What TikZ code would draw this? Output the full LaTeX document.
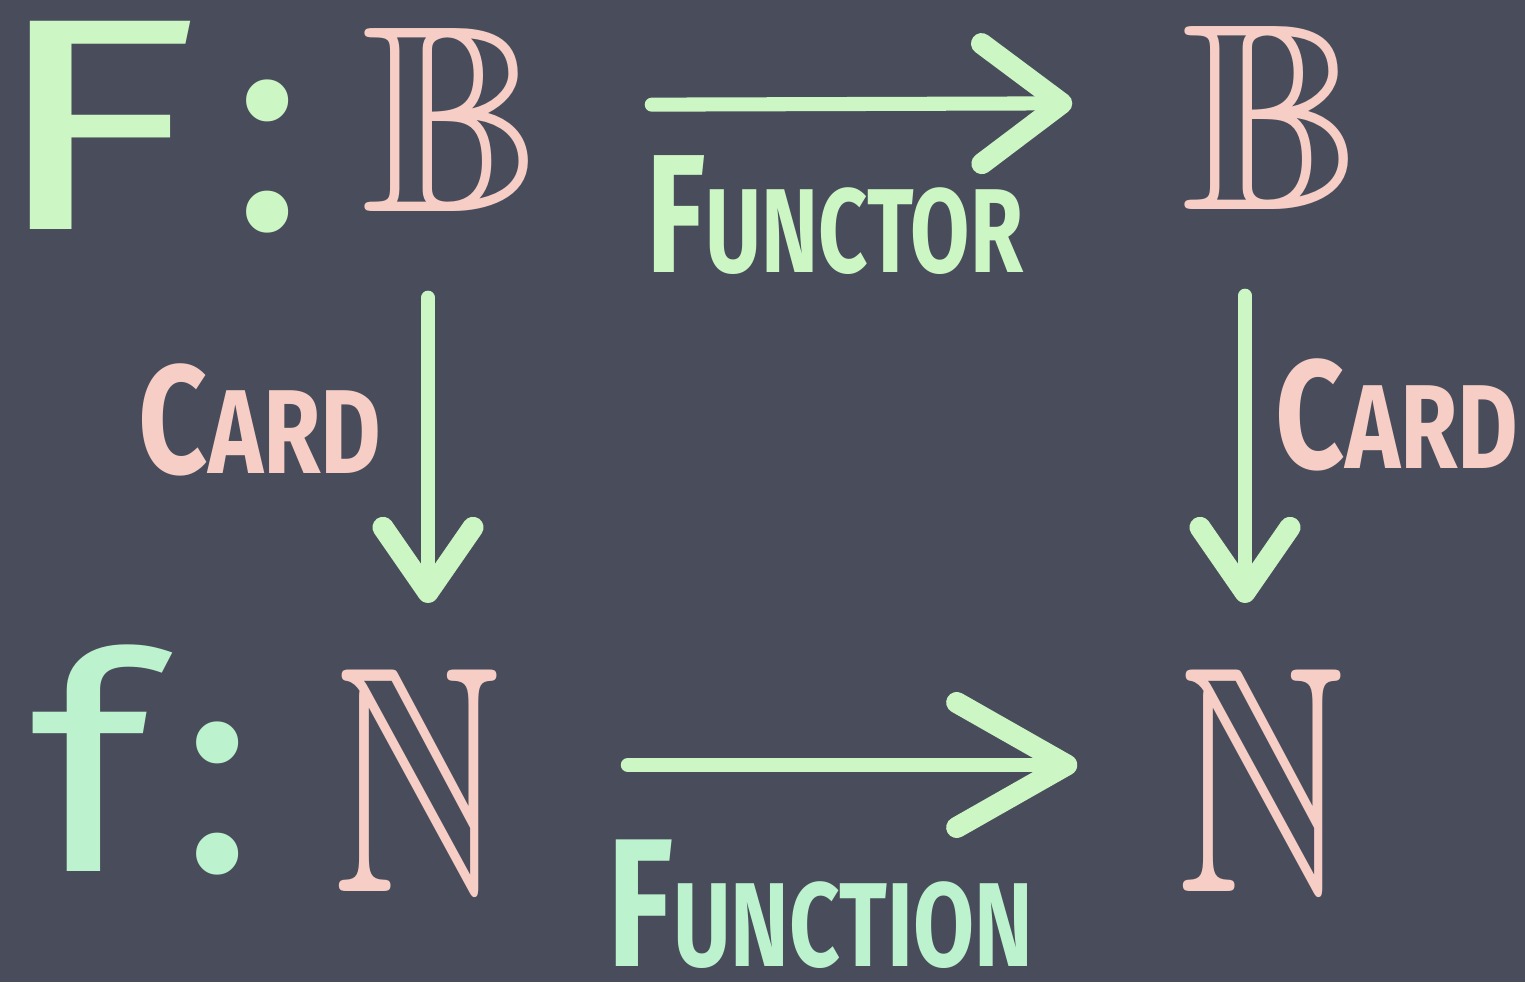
\documentclass[tikz,border=0pt]{standalone}
\usepackage{amsmath,amssymb}
\usepackage{graphicx}
\usepackage{fontspec}
\setmainfont{Fira Sans}
\usepackage{tikz}
\usetikzlibrary{positioning,arrows.meta}
\definecolor{cboard}{RGB}{73,77,91}
\definecolor{cchalk}{RGB}{204,246,196}
\definecolor{cmint}{RGB}{188,242,206}
\definecolor{cpink}{RGB}{246,206,198}

\begin{document}
\begin{tikzpicture}[
  inner sep=0pt,
  % big letters on the board
  fun/.style={color=cchalk,font=\fontsize{86}{90}\selectfont},
  set/.style={color=cpink,font=\fontsize{76}{80}\selectfont},
  nat/.style={color=cpink,font=\fontsize{92}{96}\selectfont},
  % hand-lettered captions: first capital bigger, rest narrow
  lettering/.style={font=\fontsize{34}{36}\selectfont\bfseries},
  arr/.style={color=cchalk,line width=4pt,line cap=round},
]
\useasboundingbox (0,0) rectangle (15.25,9.82);
\fill[cboard] (0,0) rectangle (15.25,9.82);

% =========== top row: the functor on sets ==================================
\node[fun] (lF) at (1.45,8.55) {\scalebox{1.45}[1]{F}\hspace{0.1em}:};
\node[set] (bL) at (4.52,8.62) {$\mathbb{B}$};
\node[set] (bR) at (12.72,8.64) {$\mathbb{B}$};
\draw[arr,-{Straight Barb[length=8mm,width=12mm,line width=2pt 1,round]},
      shorten <=11mm,shorten >=11mm]
  ([yshift=1.5mm]bL.east) -- ([yshift=1.5mm]bR.west);
\node[lettering,color=cchalk] (functor) at (8.35,7.67)
  {\scalebox{0.72}[1]{{\fontsize{48}{50}\selectfont F}UNCTOR}};

% =========== bottom row: the function on numbers ===========================
\node[fun,color=cmint] (lf) at (1.42,2.22) {\scalebox{1.2}[1]{f}\hspace{0.1em}:};
\node[nat] (nL) at (4.18,2.02) {\scalebox{0.72}[1]{$\mathbb{N}$}};
\node[nat] (nR) at (12.62,2.02) {\scalebox{0.72}[1]{$\mathbb{N}$}};
\draw[arr,-{Straight Barb[length=11mm,width=12.5mm,line width=2pt 1,round]},
      shorten <=12.5mm,shorten >=10mm]
  ([yshift=1.5mm]nL.east) -- ([yshift=1.5mm]nR.west);
\node[lettering,color=cmint] (function) at (8.2,0.78)
  {\scalebox{0.74}[1]{{\fontsize{52}{54}\selectfont F}UNCTION}};

% =========== the two cardinality maps ======================================
\draw[arr,-{Straight Barb[length=6.5mm,width=9mm,line width=2pt 1,round]},
      shorten <=8.5mm,shorten >=6.5mm]
  ([xshift=1mm]bL.south -| nL) -- ([xshift=1mm]nL.north);
\draw[arr,-{Straight Barb[length=6.5mm,width=9mm,line width=2pt 1,round]},
      shorten <=8.5mm,shorten >=6.5mm]
  ([xshift=-1.7mm]bR.south -| nR) -- ([xshift=-1.7mm]nR.north);
\node[lettering,color=cpink] (cardL) at (2.6,5.62)
  {\scalebox{0.78}[1]{{\fontsize{44}{46}\selectfont C}ARD}};
\node[lettering,color=cpink] (cardR) at (13.97,5.67)
  {\scalebox{0.78}[1]{{\fontsize{44}{46}\selectfont C}ARD}};

\end{tikzpicture}
\end{document}
